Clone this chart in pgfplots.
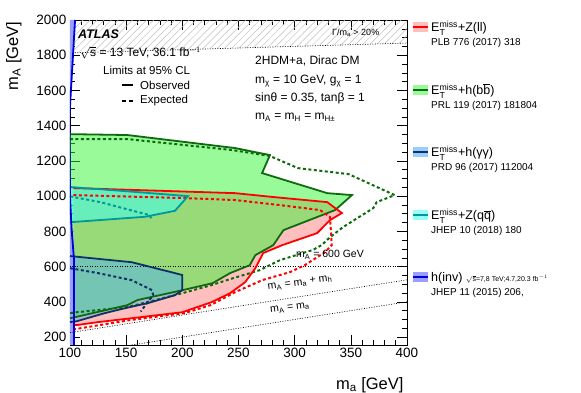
\documentclass[border=0pt]{standalone}
\usepackage{fontspec}
\setmainfont{Liberation Sans}
\usepackage{amsmath}
\usepackage{pgfplots}
\pgfplotsset{compat=1.18}
\usetikzlibrary{patterns.meta}

\definecolor{zllfill}{rgb}{1,0.75,0.75}
\definecolor{zllline}{rgb}{1,0,0}
\definecolor{bbfill}{rgb}{0.2,0.96,0.2}
\definecolor{bbkey}{rgb}{0.6,0.98,0.6}
\definecolor{bbline}{rgb}{0.05,0.42,0.05}
\definecolor{qqfill}{rgb}{0.25,1,0.95}
\definecolor{qqkey}{rgb}{0.6,1,0.95}
\definecolor{qqline}{rgb}{0,0.6,0.62}
\definecolor{yyfill}{rgb}{0.3,0.68,1}
\definecolor{yykey}{rgb}{0.6,0.8,1}
\definecolor{yyline}{rgb}{0.05,0.2,0.4}
\definecolor{invfill}{rgb}{0.6,0.62,1}
\definecolor{invline}{rgb}{0,0,0.85}

\newcommand{\met}{E$_{\text{T}}^{\text{miss}}$}

\tikzset{
  obs/.style={line width=1.8pt},
  exp/.style={line width=2pt, dash pattern=on 3pt off 2.5pt},
  refline/.style={black, line width=0.6pt, dash pattern=on 1pt off 1.5pt},
}

\begin{document}
\begin{tikzpicture}
\path[use as bounding box] (-70pt,-48pt) rectangle (511pt,345pt);
\begin{axis}[
  scale only axis, width=337pt, height=325pt,
  xmin=100, xmax=400, ymin=155, ymax=2000,
  xtick={100,150,...,400}, ytick={200,400,...,2000},
  minor x tick num=4, minor y tick num=3,
  tick align=inside, tick pos=both,
  major tick length=10pt, minor tick length=5pt,
  axis line style={line width=0.8pt},
  every tick/.style={black, line width=0.6pt},
  ticklabel style={font=\fontsize{13.5}{14}\selectfont},
  /pgf/number format/assume math mode=true,
  /pgf/number format/1000 sep={},
  xlabel={m\textsubscript{a} [GeV]},
  ylabel={m\textsubscript{A} [GeV]},
  x label style={at={(axis description cs:1,-0.1354)}, anchor=base east, font=\fontsize{16.5}{18}\selectfont},
  y label style={at={(axis description cs:-0.1543,1.006)}, anchor=base east, font=\fontsize{16.5}{18}\selectfont},
]
% width > 20% region
\addplot[draw=none, pattern={Lines[angle=45,distance=5pt,line width=0.5pt]}, pattern color=gray!50]
  coordinates {(100,1813) (400,1869) (400,2000) (100,2000)} -- cycle;
\addplot[refline] coordinates {(100,1813) (400,1869)};

% E_T^miss + Z(ll)
\addplot[draw=none, fill=zllfill] coordinates {
  (103,1046) (247,1017) (281,995) (329,966) (342,904) (331.5,864) (320,790) (289,722)
  (272,677) (265,591) (256,512) (242.5,449) (226,398) (200,341) (155,307) (125,285)
  (106,268) (103,268)} -- cycle;
% E_T^miss + h(bb)
\addplot[draw=none, fill=bbfill, fill opacity=0.5] coordinates {
  (100,1352) (151,1347) (247,1273) (278,1233) (271,1131) (329,1017) (351,1006) (336,921)
  (290,807) (281,722) (265,665) (260,608) (242.5,563) (227,506) (200,466) (160,410)
  (151,381) (104.5,313) (100,307)} -- cycle;
% E_T^miss + Z(qq)
\addplot[draw=none, fill=qqfill, fill opacity=0.55] coordinates {
  (100,1052) (150,1028) (205,1000) (193.5,917) (167,883) (104.5,854) (100,853)} -- cycle;
% E_T^miss + h(yy)
\addplot[draw=none, fill=yyfill, fill opacity=0.45] coordinates {
  (100,660) (155,625) (193.5,563) (200,552) (200,466) (193.5,438) (169.5,393) (149,364)
  (131,336) (106,290) (100,285)} -- cycle;
% h(inv)
\addplot[draw=none, fill=invfill] coordinates {
  (100,2000) (104.5,2000) (99.4,1443) (100,995) (101.5,807) (103.6,637) (103.6,155) (100,155)} -- cycle;

% reference lines
\addplot[refline] coordinates {(100,600) (400,600)};
\addplot[refline] coordinates {(100,225) (400,525)};
\addplot[refline] coordinates {(155,155) (400,400)};

% contours: expected then observed
\addplot[bbline, exp] coordinates {
  (100,1324) (151,1324) (244,1262) (278,1228) (303,1159) (348,1125) (389,1006) (373,966)
  (370,932) (343,824) (331.5,767) (324,722) (316,694) (287,637) (269,580) (242.5,529)
  (226,495) (200,449) (151,370) (106,341) (100,336)};
\addplot[bbline, obs] coordinates {
  (100,1352) (151,1347) (247,1273) (278,1233) (271,1131) (329,1017) (351,1006) (336,921)
  (290,807) (281,722) (265,665) (260,608) (242.5,563) (227,506) (200,466) (160,410)
  (151,381) (104.5,313) (100,307)};
\addplot[zllline, exp] coordinates {
  (103,1006) (202,989) (247,978) (287,949) (322.6,921) (331.5,881) (333,722) (327,682)
  (309,608) (296,569) (271,523) (247,455) (225,381) (202,336) (153,296) (104.5,245)};
\addplot[zllline, obs] coordinates {
  (103,1046) (247,1017) (281,995) (329,966) (342,904) (331.5,864) (320,790) (289,722)
  (272,677) (265,591) (256,512) (242.5,449) (226,398) (200,341) (155,307) (125,285)
  (106,268) (103,268)};
\addplot[qqline, exp] coordinates {
  (100,1000) (103,995) (127,966) (147,932) (171,892) (173,864)};
\addplot[qqline, obs] coordinates {
  (100,1052) (150,1028) (205,1000) (193.5,917) (167,883) (104.5,854) (100,853)};
\addplot[yyline, exp] coordinates {
  (100,591) (125,563) (155,523) (173,466) (174,438) (168.5,393) (163,345)};
\addplot[yyline, obs] coordinates {
  (100,660) (155,625) (193.5,563) (200,552) (200,466) (193.5,438) (169.5,393) (149,364)
  (131,336) (106,290) (100,285)};
\addplot[invline, obs] coordinates {
  (104.5,2000) (99.4,1443) (100,995) (101.5,807) (103.6,637) (103.6,155)};
\end{axis}

% annotations
\node[anchor=west, inner sep=0, font=\fontsize{12.5}{14}\selectfont\bfseries\itshape] at (8pt,311pt) {ATLAS};
\node[anchor=west, inner sep=0, font=\fontsize{12}{14}\selectfont] at (10pt,292pt) {$\sqrt{\text{s}}$ = 13 TeV, 36.1 fb$^{-1}$};
\node[anchor=west, inner sep=0, font=\fontsize{11.5}{13}\selectfont] at (33pt,275pt) {Limits at 95\% CL};
\draw[black, line width=1.5pt] (52pt,260pt) -- (63pt,260pt);
\node[anchor=west, inner sep=0, font=\fontsize{11.5}{13}\selectfont] at (70pt,260pt) {Observed};
\draw[black, line width=1.5pt] (52pt,244pt) -- (56pt,244pt) (59pt,244pt) -- (63pt,244pt);
\node[anchor=west, inner sep=0, font=\fontsize{11.5}{13}\selectfont] at (70pt,244pt) {Expected};

\node[anchor=base west, inner sep=0, font=\fontsize{12}{14}\selectfont] at (185pt,280pt) {2HDM+a, Dirac DM};
\node[anchor=base west, inner sep=0, font=\fontsize{12}{14}\selectfont] at (185pt,261pt) {m\textsubscript{χ} = 10 GeV, g\textsubscript{χ} = 1};
\node[anchor=base west, inner sep=0, font=\fontsize{12}{14}\selectfont] at (185pt,243pt) {sinθ = 0.35, tanβ = 1};
\node[anchor=base west, inner sep=0, font=\fontsize{12}{14}\selectfont] at (185pt,225pt) {m\textsubscript{A} = m\textsubscript{H} = m\textsubscript{H±}};
\node[anchor=west, inner sep=0, font=\fontsize{9}{10}\selectfont] at (262pt,312pt) {Γ/m\textsubscript{a} > 20\%};

\node[inner sep=0, font=\fontsize{10.5}{12}\selectfont] at (260pt,90pt) {m\textsubscript{A} = 600 GeV};
\node[inner sep=0, rotate=8, font=\fontsize{10.5}{12}\selectfont] at (230pt,62pt) {m\textsubscript{A} = m\textsubscript{a} + m\textsubscript{h}};
\node[inner sep=0, rotate=8, font=\fontsize{10.5}{12}\selectfont] at (220pt,37pt) {m\textsubscript{A} = m\textsubscript{a}};

% legend
\fill[zllfill] (343pt,313pt) rectangle (358pt,323pt);
\draw[zllline, line width=1.8pt] (343pt,318pt) -- (358pt,318pt);
\node[anchor=base west, inner sep=0, font=\fontsize{12.5}{14}\selectfont] at (361pt,313pt) {\met+Z(ll)};
\node[anchor=base west, inner sep=0, font=\fontsize{10}{12}\selectfont] at (361pt,299pt) {PLB 776 (2017) 318};

\fill[bbkey] (343pt,250pt) rectangle (358pt,260pt);
\draw[bbline, line width=1.8pt] (343pt,255pt) -- (358pt,255pt);
\node[anchor=base west, inner sep=0, font=\fontsize{12.5}{14}\selectfont] at (361pt,250pt) {\met+h(b$\overline{\text{b}}$)};
\node[anchor=base west, inner sep=0, font=\fontsize{10}{12}\selectfont] at (361pt,236pt) {PRL 119 (2017) 181804};

\fill[yykey] (343pt,188pt) rectangle (358pt,198pt);
\draw[yyline, line width=1.8pt] (343pt,193pt) -- (358pt,193pt);
\node[anchor=base west, inner sep=0, font=\fontsize{12.5}{14}\selectfont] at (361pt,188pt) {\met+h(γγ)};
\node[anchor=base west, inner sep=0, font=\fontsize{10}{12}\selectfont] at (361pt,174pt) {PRD 96 (2017) 112004};

\fill[qqkey] (343pt,125pt) rectangle (358pt,135pt);
\draw[qqline, line width=1.8pt] (343pt,130pt) -- (358pt,130pt);
\node[anchor=base west, inner sep=0, font=\fontsize{12.5}{14}\selectfont] at (361pt,125pt) {\met+Z(q$\overline{\text{q}}$)};
\node[anchor=base west, inner sep=0, font=\fontsize{10}{12}\selectfont] at (361pt,111pt) {JHEP 10 (2018) 180};

\fill[invfill] (343pt,63pt) rectangle (358pt,73pt);
\draw[invline, line width=1.8pt] (343pt,68pt) -- (358pt,68pt);
\node[anchor=base west, inner sep=0, font=\fontsize{12.5}{14}\selectfont] at (361pt,63pt) {h(inv) {\fontsize{7}{8}\selectfont $\sqrt{\text{s}}$=7,8 TeV;4.7,20.3 fb$^{-1}$}};
\node[anchor=base west, inner sep=0, font=\fontsize{10}{12}\selectfont] at (361pt,49pt) {JHEP 11 (2015) 206,};
\end{tikzpicture}
\end{document}
